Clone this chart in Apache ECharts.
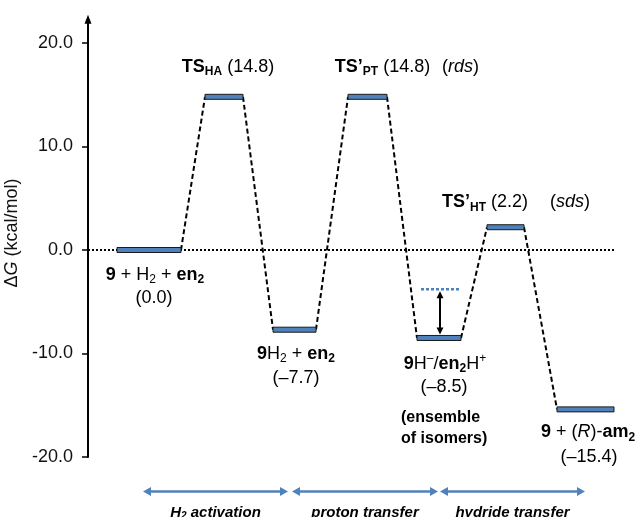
<!DOCTYPE html>
<html>
<head>
<meta charset="utf-8">
<script src="https://cdn.jsdelivr.net/npm/echarts@6/dist/echarts.min.js"></script>
<style>html,body{margin:0;padding:0;background:#fff}#c{width:638px;height:517px}</style>
</head>
<body>
<div id="c"></div>
<script>
// ---------- data ----------
const energies = [0.0, 14.8, -7.7, 14.8, -8.5, 2.2, -15.4];   // ΔG of each state (kcal/mol)
const refLevel = -3.8;                                       // blue dotted reference in the 9H–/en2H+ well
const yTicks = [-20, -10, 0, 10, 20];
const phaseNames = ['{bi|H}{bis|2}{bi| activation}', '{bi|proton transfer}', '{bi|hydride transfer}'];
const stateNames = [
  '{b|9} + H{s|2} + {b|en}{bs|2}',
  '{b|TS}{bs|HA}',
  '{b|9}H{s|2} + {b|en}{bs|2}',
  '{b|TS’}{bs|PT}',
  '{b|9}H{sup|–}/{b|en}{bs|2}H{sup|+}',
  '{b|TS’}{bs|HT}',
  '{b|9} + ({i|R})-{b|am}{bs|2}'
];
const stateNotes = {3: '({i|rds})', 5: '({i|sds})'};
const ensembleNote = ['(ensemble', 'of isomers)'];

// ---------- layout (x in axis units, offsets in px) ----------
const levelSpan = [[29,93],[117,155],[185,228],[260,299],[329,373],[399,436],[469,526]];
const phaseSpan = [[55,200],[204,350],[352,497]];
const refSpan = [333, 372];
const refArrowX = 352;
const labelPos = [
  {name:[6,25],  val:[5,48]},
  {name:[4,-30], inline:true},
  {name:[1.5,24], val:[1.5,48]},
  {name:[15,-30], inline:true, note:[93,-30]},
  {name:[6,26],  val:[5,49], extra:[-38,80,101]},
  {name:[-20.5,-25], inline:true, note:[64.5,-25]},
  {name:[2.5,23], val:[3.5,48]}
];

const FONT = '"Liberation Sans", Arial, Helvetica, sans-serif';
const BLUE = '#4F81BD';
const fmt = v => '(' + (v < 0 ? '–' : '') + Math.abs(v).toFixed(1) + ')';
function rs(size, weight, style, lh, va) {
  const o = {fontSize:size, fontFamily:FONT, fontWeight:weight||'normal', fontStyle:style||'normal', fill:'#000', lineHeight:lh};
  if (va) o.verticalAlign = va;
  return o;
}
const rich = {
  b: rs(18,'bold','normal',22),
  i: rs(18,'normal','italic',22),
  s: rs(12,'normal','normal',13,'bottom'),
  bs: rs(12,'bold','normal',13,'bottom'),
  sup: rs(12,'normal','normal',12,'top'),
  bi: rs(15,'bold','italic',18),
  bis: rs(10,'bold','italic',10,'bottom')
};
function txt(x, y, text, extra) {
  return Object.assign({type:'text', x:x, y:y, style:Object.assign({
    text:text, rich:rich, fontSize:18, fontFamily:FONT, fill:'#000', lineHeight:22,
    align:'center', verticalAlign:'middle'}, extra && extra.style || {})}, extra && extra.el || {});
}

const chart = echarts.init(document.getElementById('c'));
const stateData = energies.map((e, i) => [i, e]);

chart.setOption({
  animation:false,
  grid:{left:88, right:23, top:19.2, bottom:60, containLabel:false, outerBoundsMode:'none'},
  xAxis:{type:'value', min:0, max:527, show:false},
  yAxis:{
    type:'value', min:-20, max:22.3, interval:10,
    name:'{n|Δ}{gi|G}{n| (kcal/mol)}', nameLocation:'middle', nameGap:56, nameRotate:90,
    nameTextStyle:{padding:[0,0,0,10], rich:{
      n:{fontSize:18, fontFamily:FONT, color:'#111'},
      gi:{fontSize:18, fontFamily:FONT, fontStyle:'italic', color:'#111'}}},
    axisLine:{show:true, symbol:['none','triangle'], symbolSize:[7,9], lineStyle:{color:'#000', width:2}},
    axisTick:{show:true, length:6, customValues:yTicks, lineStyle:{color:'#000', width:1.5}},
    axisLabel:{customValues:yTicks, formatter:v => Number(v).toFixed(1), fontSize:18, fontFamily:FONT, color:'#111', margin:15},
    splitLine:{show:false}
  },
  series:[
    { // dashed connectors
      type:'custom', z:2, data:stateData.slice(0, -1),
      renderItem:(params, api) => {
        const i = params.dataIndex;
        const a = api.coord([levelSpan[i][1], energies[i]]);
        const b = api.coord([levelSpan[i+1][0], energies[i+1]]);
        return {type:'line', shape:{x1:a[0], y1:a[1], x2:b[0], y2:b[1]},
          style:{stroke:'#000', lineWidth:2, lineDash:[5,3]}};
      }
    },
    { // energy levels
      type:'custom', z:4, data:stateData,
      renderItem:(params, api) => {
        const i = params.dataIndex;
        const e = api.value(1);
        const a = api.coord([levelSpan[i][0], e]);
        const b = api.coord([levelSpan[i][1], e]);
        return {type:'rect', shape:{x:a[0], y:a[1]-2.5, width:b[0]-a[0], height:5},
          style:{fill:BLUE, stroke:'#1b1b1b', lineWidth:1}};
      },
      markLine:{silent:true, symbol:'none', z:1, label:{show:false},
        lineStyle:{color:'#000', width:2, type:[2,2]}, data:[{yAxis:0}]}
    },
    { // state labels
      type:'custom', z:5, data:stateData,
      renderItem:(params, api) => {
        const i = params.dataIndex;
        const e = api.value(1);
        const lp = labelPos[i];
        const c = api.coord([(levelSpan[i][0]+levelSpan[i][1])/2, e]);
        const kids = [];
        if (lp.inline) kids.push(txt(c[0]+lp.name[0], c[1]+lp.name[1], stateNames[i] + ' ' + fmt(e)));
        else {
          kids.push(txt(c[0]+lp.name[0], c[1]+lp.name[1], stateNames[i]));
          kids.push(txt(c[0]+lp.val[0], c[1]+lp.val[1], fmt(e)));
        }
        if (lp.note) kids.push(txt(c[0]+lp.note[0], c[1]+lp.note[1], stateNotes[i]));
        if (lp.extra) {
          ensembleNote.forEach((t, k) => kids.push(txt(c[0]+lp.extra[0], c[1]+lp.extra[1+k], t,
            {style:{align:'left', fontSize:16, fontWeight:'bold', lineHeight:20}})));
        }
        return {type:'group', children:kids};
      }
    },
    { // annotations: reference level, double arrow, phase arrows
      type:'custom', z:6, data:[[0, 0]],
      renderItem:(params, api) => {
        const kids = [];
        const r0 = api.coord([refSpan[0], refLevel]);
        const r1 = api.coord([refSpan[1], refLevel]);
        kids.push({type:'line', shape:{x1:r0[0], y1:r0[1], x2:r1[0], y2:r1[1]},
          style:{stroke:BLUE, lineWidth:2.5, lineDash:[3,2]}});
        const top = api.coord([refArrowX, refLevel])[1] + 2;
        const bot = api.coord([refArrowX, energies[4]])[1] - 3.5;
        const ax = api.coord([refArrowX, 0])[0];
        const h = 7, w = 3.5;
        kids.push({type:'line', shape:{x1:ax, y1:top+h-1, x2:ax, y2:bot-h+1}, style:{stroke:'#000', lineWidth:2}});
        kids.push({type:'polygon', shape:{points:[[ax,top],[ax-w,top+h],[ax+w,top+h]]}, style:{fill:'#000'}});
        kids.push({type:'polygon', shape:{points:[[ax,bot],[ax-w,bot-h],[ax+w,bot-h]]}, style:{fill:'#000'}});
        const yBase = api.coord([0, yTicks[0]])[1];
        const ay = yBase + 34.5;
        phaseSpan.forEach((sp, k) => {
          const x0 = api.coord([sp[0], 0])[0], x1 = api.coord([sp[1], 0])[0];
          const L = 8, W = 4.5;
          kids.push({type:'line', shape:{x1:x0+L-1, y1:ay, x2:x1-L+1, y2:ay}, style:{stroke:BLUE, lineWidth:2.5}});
          kids.push({type:'polygon', shape:{points:[[x0,ay],[x0+L,ay-W],[x0+L,ay+W]]}, style:{fill:BLUE}});
          kids.push({type:'polygon', shape:{points:[[x1,ay],[x1-L,ay-W],[x1-L,ay+W]]}, style:{fill:BLUE}});
          kids.push(txt((x0+x1)/2, ay + 21, phaseNames[k], {style:{lineHeight:18}}));
        });
        return {type:'group', children:kids};
      }
    }
  ]
});
</script>
</body>
</html>
